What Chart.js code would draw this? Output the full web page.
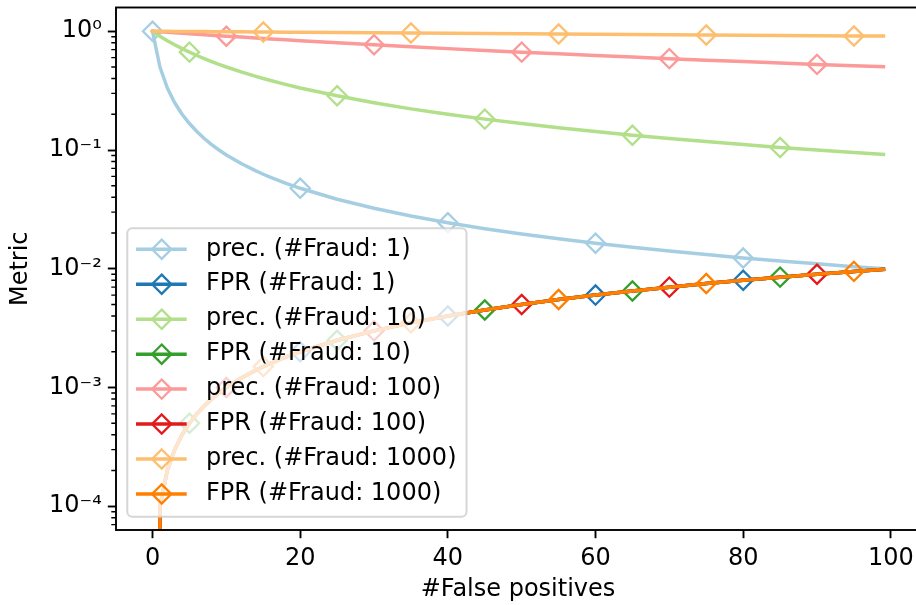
<!DOCTYPE html>
<html>
<head>
<meta charset="utf-8">
<script src="https://cdn.jsdelivr.net/npm/chart.js@4.4.0/dist/chart.umd.min.js"></script>
<style>
  html, body { margin: 0; padding: 0; background: #fff; overflow: hidden; }
  #wrap { width: 920px; height: 605px; }
</style>
</head>
<body>
<div id="wrap"><canvas id="chart" width="920" height="605"></canvas></div>
<script>
// #False positives where the curves are read
const falsePositives = [0, 1, 2, 3, 4, 5, 6, 7, 8, 9, 10, 12, 14, 15, 16, 18, 20, 25, 30, 35, 40, 45, 50, 55, 60, 65, 70, 75, 80, 85, 90, 95, 99];

// precision curves, one per #Fraud
const precFraud1 = [1, 0.5, 0.333, 0.25, 0.2, 0.167, 0.143, 0.125, 0.111, 0.1, 0.0909, 0.0769, 0.0667, 0.0625, 0.0588, 0.0526, 0.0476, 0.0385, 0.0323, 0.0278, 0.0244, 0.0217, 0.0196, 0.0179, 0.0164, 0.0152, 0.0141, 0.0132, 0.0123, 0.0116, 0.011, 0.0104, 0.01];
const precFraud10 = [1, 0.909, 0.833, 0.769, 0.714, 0.667, 0.625, 0.588, 0.556, 0.526, 0.5, 0.455, 0.417, 0.4, 0.385, 0.357, 0.333, 0.286, 0.25, 0.222, 0.2, 0.182, 0.167, 0.154, 0.143, 0.133, 0.125, 0.118, 0.111, 0.105, 0.1, 0.0952, 0.0917];
const precFraud100 = [1, 0.99, 0.98, 0.971, 0.962, 0.952, 0.943, 0.935, 0.926, 0.917, 0.909, 0.893, 0.877, 0.87, 0.862, 0.847, 0.833, 0.8, 0.769, 0.741, 0.714, 0.69, 0.667, 0.645, 0.625, 0.606, 0.588, 0.571, 0.556, 0.541, 0.526, 0.513, 0.503];
const precFraud1000 = [1, 0.999, 0.998, 0.997, 0.996, 0.995, 0.994, 0.993, 0.992, 0.991, 0.99, 0.988, 0.986, 0.985, 0.984, 0.982, 0.98, 0.976, 0.971, 0.966, 0.962, 0.957, 0.952, 0.948, 0.943, 0.939, 0.935, 0.93, 0.926, 0.922, 0.917, 0.913, 0.91];

// FPR is the same for every #Fraud, the four lines lie on top of each other
const fprValues = [0, 0.0001, 0.0002, 0.0003, 0.0004, 0.0005, 0.0006, 0.0007, 0.0008, 0.0009, 0.001, 0.0012, 0.0014, 0.0015, 0.0016, 0.0018, 0.002, 0.0025, 0.003, 0.0035, 0.004, 0.0045, 0.005, 0.0055, 0.006, 0.0065, 0.007, 0.0075, 0.008, 0.0085, 0.009, 0.0095, 0.0099];

const fraudCounts = [1, 10, 100, 1000];
const markerOffsets = [0, 5, 10, 15];   // first marked point, then one every 20
const precColors = ['#a6cee3', '#b2df8a', '#fb9a99', '#fdbf6f'];
const fprColors = ['#1f78b4', '#33a02c', '#e31a1c', '#ff7f00'];

const xTickValues = [0, 20, 40, 60, 80, 100];
const yTickValues = [1e-4, 1e-3, 1e-2, 1e-1, 1];
const yTickLabels = ['10⁻⁴', '10⁻³', '10⁻²', '10⁻¹', '10⁰'];

const FONT = 'DejaVu Sans';
const FONT_SIZE = 24;
const LINE_W = 3.5;
const MARKER_R = 9.6;
const MARKER_W = 2.3;

function makeDataset(label, values, color, offset, index) {
    return {
        label: label,
        // 0 cannot sit on a log axis: push it far below the plot, like matplotlib does
        data: falsePositives.map((x, i) => ({ x: x, y: values[i] > 0 ? values[i] : Number.MIN_VALUE })),
        borderColor: color,
        borderWidth: LINE_W,
        borderJoinStyle: 'round',
        borderCapStyle: 'square',
        tension: 0,
        pointStyle: 'rectRot',
        pointRadius: ctx => {
            const x = falsePositives[ctx.dataIndex];
            return (x >= offset && (x - offset) % 20 === 0) ? MARKER_R : 0;
        },
        pointHoverRadius: 0,
        pointBorderColor: color,
        pointBackgroundColor: 'rgba(0,0,0,0)',
        pointBorderWidth: MARKER_W,
        clip: 0,
        order: 7 - index
    };
}

const precSeries = [precFraud1, precFraud10, precFraud100, precFraud1000];
const datasets = [];
fraudCounts.forEach((f, k) => {
    datasets.push(makeDataset(`prec. (#Fraud: ${f})`, precSeries[k], precColors[k], markerOffsets[k], datasets.length));
    datasets.push(makeDataset(`FPR (#Fraud: ${f})`, fprValues, fprColors[k], markerOffsets[k], datasets.length));
});

// axes frame and log minor ticks
const framePlugin = {
    id: 'frame',
    afterDraw(chart) {
        const { ctx, chartArea } = chart;
        const y = chart.scales.y;
        ctx.save();
        ctx.strokeStyle = '#000';
        ctx.lineWidth = 1.4;
        ctx.beginPath();
        for (let k = -5; k <= 0; k++) {
            for (let m = 2; m <= 9; m++) {
                const v = m * Math.pow(10, k);
                if (v < y.min || v > y.max) continue;
                const py = y.getPixelForValue(v);
                ctx.moveTo(chartArea.left - 4.7, py);
                ctx.lineTo(chartArea.left, py);
            }
        }
        ctx.stroke();
        ctx.lineWidth = 1.9;
        ctx.strokeRect(chartArea.left, chartArea.top, chartArea.right - chartArea.left, chartArea.bottom - chartArea.top);
        ctx.restore();
    }
};

// matplotlib style legend: line + hollow diamond, lower left, translucent box
const legendPlugin = {
    id: 'mplLegend',
    afterDraw(chart) {
        const { ctx, chartArea } = chart;
        const items = chart.data.datasets;
        const rowH = 34.96;
        ctx.save();
        ctx.font = `${FONT_SIZE}px "${FONT}"`;
        const textW = Math.max(...items.map(d => ctx.measureText(d.label).width));
        const left = chartArea.left + 11.3;
        const bottom = chartArea.bottom - 13.3;
        const h = rowH * (items.length - 1) + 21 + 22.7;
        const top = bottom - h;
        const w = 78.7 + textW + 10;
        const r = 5;

        ctx.beginPath();
        ctx.moveTo(left + r, top);
        ctx.arcTo(left + w, top, left + w, bottom, r);
        ctx.arcTo(left + w, bottom, left, bottom, r);
        ctx.arcTo(left, bottom, left, top, r);
        ctx.arcTo(left, top, left + w, top, r);
        ctx.closePath();
        ctx.fillStyle = 'rgba(255,255,255,0.8)';
        ctx.fill();
        ctx.lineWidth = 2;
        ctx.strokeStyle = 'rgba(204,204,204,0.8)';
        ctx.stroke();

        items.forEach((d, i) => {
            const cy = top + 21 + i * rowH;
            const mx = left + 34.4;
            ctx.strokeStyle = d.borderColor;
            ctx.lineWidth = LINE_W;
            ctx.lineCap = 'butt';
            ctx.beginPath();
            ctx.moveTo(left + 8.7, cy);
            ctx.lineTo(left + 59.4, cy);
            ctx.stroke();
            ctx.lineWidth = MARKER_W;
            ctx.lineJoin = 'miter';
            ctx.beginPath();
            ctx.moveTo(mx, cy - MARKER_R);
            ctx.lineTo(mx + MARKER_R, cy);
            ctx.lineTo(mx, cy + MARKER_R);
            ctx.lineTo(mx - MARKER_R, cy);
            ctx.closePath();
            ctx.stroke();
            ctx.fillStyle = '#000';
            ctx.textBaseline = 'middle';
            ctx.textAlign = 'left';
            ctx.fillText(d.label, left + 78.7, cy);
        });
        ctx.restore();
    }
};

const tickGrid = { display: true, drawOnChartArea: false, drawTicks: true, tickLength: 8.2, tickWidth: 1.9, tickColor: '#000' };

new Chart(document.getElementById('chart'), {
    type: 'line',
    data: { datasets: datasets },
    options: {
        responsive: false,
        devicePixelRatio: 1,
        animation: false,
        events: [],
        layout: { autoPadding: false, padding: { top: 7.5, right: 0, bottom: 0, left: 0 } },
        plugins: {
            legend: { display: false },
            tooltip: { enabled: false }
        },
        scales: {
            x: {
                type: 'linear',
                min: -4.95,
                max: 103.95,
                afterBuildTicks: scale => { scale.ticks = xTickValues.map(v => ({ value: v })); },
                afterFit: scale => { scale.height = 75; scale.paddingLeft = 0; scale.paddingRight = 0; },
                ticks: {
                    autoSkip: false,
                    maxRotation: 0,
                    padding: 6,
                    color: '#000',
                    font: { family: FONT, size: FONT_SIZE },
                    callback: v => String(v)
                },
                grid: tickGrid,
                border: { display: false },
                title: { display: true, text: '#False positives', color: '#000', font: { family: FONT, size: FONT_SIZE }, padding: { top: 0, bottom: 1 } }
            },
            y: {
                type: 'logarithmic',
                min: Math.pow(10, -4.2),
                max: Math.pow(10, 0.2),
                afterBuildTicks: scale => { scale.ticks = yTickValues.map(v => ({ value: v })); },
                afterFit: scale => { scale.width = 116; scale.paddingTop = 0; scale.paddingBottom = 0; },
                ticks: {
                    autoSkip: false,
                    padding: 6,
                    color: '#000',
                    font: { family: FONT, size: FONT_SIZE },
                    callback: v => yTickLabels[yTickValues.indexOf(v)]
                },
                grid: tickGrid,
                border: { display: false },
                title: { display: true, text: 'Metric', color: '#000', font: { family: FONT, size: FONT_SIZE }, padding: { top: 6, bottom: 0 } }
            }
        }
    },
    plugins: [framePlugin, legendPlugin]
});
</script>
</body>
</html>
